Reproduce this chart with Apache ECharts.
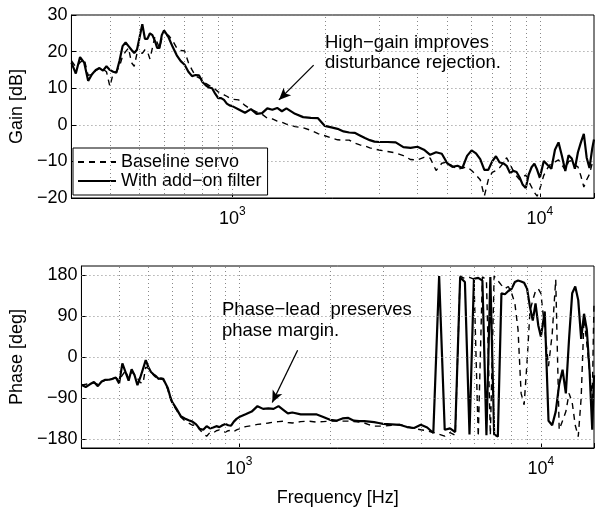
<!DOCTYPE html>
<html>
<head>
<meta charset="utf-8">
<script src="https://cdn.jsdelivr.net/npm/echarts@6/dist/echarts.min.js"></script>
<style>
    html, body { margin: 0; padding: 0; background: #fff; }
    #chart { width: 597px; height: 508px; }
</style>
</head>
<body>
<div id="chart"></div>
<script>
/* frequency points [Hz], shared by all curves */
var freq = [
    300, 310, 320, 330, 340, 350, 360, 370, 380, 390,
    400, 410, 420, 430, 440, 450, 460, 470, 480, 490,
    500, 510, 520, 530, 540, 550, 560, 570, 580, 590,
    600, 620, 640, 660, 680, 700, 720, 740, 760, 780,
    800, 820, 840, 860, 880, 900, 920, 940, 960, 980,
    1000, 1050, 1100, 1150, 1200, 1250, 1300, 1350, 1400, 1450,
    1500, 1600, 1700, 1800, 1900, 2000, 2100, 2200, 2300, 2400,
    2500, 2600, 2700, 2800, 2900, 3000, 3200, 3400, 3600, 3800,
    4000, 4200, 4400, 4600, 4800, 5000, 5200, 5400, 5600, 5800,
    6000, 6200, 6400, 6600, 6800, 7000, 7200, 7400, 7600, 7800,
    8000, 8200, 8400, 8600, 8800, 9000, 9200, 9400, 9600, 9800,
    10000, 10300, 10600, 10900, 11200, 11500, 11800, 12100, 12400, 12700,
    13000, 13300, 13600, 13900, 14200, 14500, 14800, 15000
];

/* gain [dB] */
var gainBase = [
    17.5, 15.8, 17, 18, 13.5, 13.8, 14.8, 15.5, 15.2, 14.5,
    10.5, 14, 14.6, 16, 18.8, 20, 21, 17, 16, 19.5,
    19.8, 19.5, 20.5, 20, 18, 21, 24, 22.5, 21, 23.5,
    24, 24.5, 23, 21, 20.3, 20.2, 17, 15, 13.3, 12.8,
    12.5, 11.3, 10.8, 10.3, 9.7, 9, 8.6, 8.2, 7.8, 7.3,
    7, 6.8, 5.3, 4.2, 3.5, 2.9, 1.8, 1.6, 1, 0.7,
    0.2, -0.5, -0.8, -1.5, -2.4, -3.0, -3.6, -4.1, -4.2, -4.2,
    -5.0, -5.5, -5.8, -6.3, -6.6, -6.9, -7.3, -7.7, -8.4, -9.5,
    -9.6, -8.9, -9.1, -12.5, -10.5, -10.2, -11.3, -12.2, -11.8, -11.5,
    -12.5, -13.7, -15, -19.5, -15, -13, -12.5, -11.7, -10.5, -9,
    -10.8, -12.6, -14, -15, -14.3, -13.7, -15.5, -17, -18.5, -19.5,
    -17.5, -13.8, -11.8, -10.5, -10.1, -9.6, -11, -12.3, -10, -9.8,
    -11, -11.5, -14, -17, -15, -13.5, -10.5, -9.6
];
var gainFilter = [
    17, 14, 18.5, 17, 12, 13.8, 15, 15.5, 14.8, 16,
    15, 14.5, 14.2, 17.5, 21.5, 22.5, 21.5, 20.5, 19.6, 20.5,
    24, 27.5, 23.5, 23.5, 25, 24.5, 23, 21, 21, 24.5,
    25.8, 24, 21.3, 19, 17.4, 16.4, 14.5, 13.3, 13.6, 13.5,
    11.7, 10.8, 10.2, 10, 8.5, 7.3, 7.3, 6.8, 5.8, 5.3,
    5.1, 4.2, 3.3, 4.3, 3, 3.2, 4.5, 4.1, 4.6, 3.7,
    4.5, 3.0, 2.1, 1.9, 1.8, -0.3, -0.7, -1.1, -1.8, -2.1,
    -2.2, -2.9, -3.6, -4.2, -4.6, -4.7, -4.7, -4.8, -6.1, -6.3,
    -6.0, -6.8, -8.2, -7.5, -7.9, -10.5, -11.5, -11.2, -11.8, -8.5,
    -7.0, -7.8, -9.4, -12.3, -12.3, -10.0, -8.6, -10.3, -10.5, -11.2,
    -13.2, -12.6, -12.9, -14.4, -16.4, -17.3, -13.6, -11.6, -10.6, -12.3,
    -14.5, -9.9, -11.0, -12.0, -6.8, -4.8, -8.5, -12.6, -8.3, -9.2,
    -12.0, -7.5, -4.8, -2.5, -9.0, -11.8, -6.5, -4
];

/* phase [deg] */
var phaseBase = [
    -62, -60, -58, -57, -60, -55, -51, -50, -48, -46,
    -51, -40, -30, -48, -33, -38, -47, -56, -58, -22,
    -25, -32, -40, -45, -50, -48, -50, -60, -72, -90,
    -102, -117, -132, -140, -145, -150, -149, -160, -168, -174,
    -166, -167, -162, -160, -163, -165, -162, -161, -164, -160,
    -158, -153, -151, -148, -147, -145, -143, -142, -141, -144,
    -145, -142, -141, -143, -142, -141, -141, -141, -141, -142,
    -143, -145, -149, -152, -152, -152, -150, -148, -153, -157,
    -160, -162, -166, -170, -174, -166, -172, 178, 172, 175,
    171, -175, 176, 170, -172, 178, 168, 158, 150, 155,
    140, 118, 60, -80, -105, -10, 100, 125, 145, 150,
    140, 60, -20, 50, 170, -160, -140, -120, -80, -100,
    -150, -175, -90, 85, 30, -30, -90, 120
];
var phaseFilter = [
    -61, -66, -60, -55, -64, -54, -50, -50, -48, -45,
    -58, -14, -33, -52, -27, -40, -62, -45, -26, -7,
    -22, -33, -38, -42, -48, -47, -48, -58, -68, -86,
    -99, -114, -130, -135, -139, -142, -148, -158, -160, -152,
    -157, -155, -152, -154, -150, -147, -150, -151, -142, -136,
    -132, -126, -120, -108, -114, -113, -114, -108, -116, -124,
    -122, -126, -126, -126, -132, -138, -140, -135, -134, -140,
    -141, -141, -142, -143, -145, -147, -148, -149, -154, -156,
    -149, -155, -167, 178, -160, -157, -165, 175, 165, -170,
    172, 174, 168, -172, 176, -170, -175, 140, 138, 145,
    150, 165, 168, 166, 163, 150, 110, 80, 118, 70,
    45, 100, -140, -150, -120, -60, -28, -80, 40, 140,
    155, 125, 40, 95, 60, -30, -160, -40
];

/* ticks and dotted grid positions */
var phaseTicks = [-180, -90, 0, 90, 180];
var gridFreq = [400, 500, 600, 700, 800, 900, 1000, 2000, 3000, 4000, 5000, 6000, 7000, 8000, 9000, 10000];

var FONT = '"Liberation Sans", Arial, Helvetica, sans-serif';

function pairs(ys) {
    return freq.map(function (f, i) { return [f, ys[i]]; });
}
function minus(v) {
    return String(v).replace('-', '\u2212');
}
function decadeLabel(v) {
    var e = Math.round(Math.log10(v));
    if (Math.abs(Math.log10(v) - e) > 1e-6) return '';
    return '{b|10}{sup|' + e + '}';
}

/* dotted grid lines drawn through markLine so they follow the axes */
function gridSeries(idx, yTicks) {
    var lines = gridFreq.map(function (f) { return { xAxis: f }; });
    if (yTicks) {
        yTicks.forEach(function (v) { lines.push({ yAxis: v }); });
    }
    return {
        type: 'line', name: 'grid' + idx, xAxisIndex: idx, yAxisIndex: idx,
        data: [], silent: true, z: 1,
        markLine: {
            silent: true, symbol: 'none', animation: false,
            label: { show: false },
            lineStyle: { color: '#888', type: [1, 3], width: 1 },
            data: lines
        }
    };
}

function arrow(from, to) {
    return {
        silent: true, symbol: ['none', 'arrow'], symbolSize: [8, 12], animation: false,
        label: { show: false },
        lineStyle: { color: '#000', width: 1.3, type: 'solid' },
        data: [[{ coord: from }, { coord: to }]]
    };
}

function xAxisCfg(idx, withName) {
    var ax = {
        type: 'log', logBase: 10, gridIndex: idx, min: 300, max: 15000,
        axisLine: { onZero: false, lineStyle: { color: '#000', width: 1 } },
        axisTick: { inside: true, length: 5, lineStyle: { color: '#000' } },
        splitLine: { show: false },
        axisLabel: {
            color: '#000', margin: 8, formatter: decadeLabel,
            rich: {
                b: { fontSize: 18, fontFamily: FONT, color: '#000', lineHeight: 26 },
                sup: { fontSize: 12, fontFamily: FONT, color: '#000', verticalAlign: 'top', lineHeight: 14 }
            }
        }
    };
    if (withName) {
        ax.name = 'Frequency [Hz]';
        ax.nameLocation = 'middle';
        ax.nameGap = 41;
        ax.nameTextStyle = { fontSize: 18, fontFamily: FONT, color: '#000' };
    }
    return ax;
}

var chart = echarts.init(document.getElementById('chart'));

var option = {
    animation: false,
    backgroundColor: '#fff',
    textStyle: { fontFamily: FONT },
    grid: [
        { left: 71, top: 15, width: 527, height: 183, show: true, borderColor: '#000', borderWidth: 1 },
        { left: 71, top: 266, width: 527, height: 183, show: true, borderColor: '#000', borderWidth: 1 }
    ],
    legend: {
        data: ['Baseline servo', 'With add\u2212on filter'],
        orient: 'vertical', left: 73, top: 148,
        itemWidth: 38, itemHeight: 14, itemGap: 1,
        padding: [5, 6, 5, 4],
        itemStyle: { opacity: 0 },
        backgroundColor: '#fff', borderColor: '#000', borderWidth: 1, borderRadius: 0,
        textStyle: { fontSize: 18, fontFamily: FONT, color: '#000', lineHeight: 18 }
    },
    xAxis: [xAxisCfg(0, false), xAxisCfg(1, true)],
    yAxis: [
        {
            type: 'value', gridIndex: 0, min: -20, max: 30, interval: 10,
            name: 'Gain [dB]', nameLocation: 'middle', nameGap: 40,
            nameTextStyle: { fontSize: 18, fontFamily: FONT, color: '#000' },
            axisLine: { show: true, onZero: false, lineStyle: { color: '#000' } },
            axisTick: { show: true, inside: true, length: 5, lineStyle: { color: '#000' } },
            axisLabel: { color: '#000', fontSize: 18, fontFamily: FONT, margin: 4, formatter: minus },
            splitLine: { show: true, lineStyle: { color: '#888', type: [1, 3], width: 1 } }
        },
        {
            type: 'value', gridIndex: 1, min: -200, max: 200,
            name: 'Phase [deg]', nameLocation: 'middle', nameGap: 46,
            nameTextStyle: { fontSize: 18, fontFamily: FONT, color: '#000' },
            axisLine: { show: true, onZero: false, lineStyle: { color: '#000' } },
            axisTick: { show: true, inside: true, length: 5, customValues: phaseTicks, lineStyle: { color: '#000' } },
            axisLabel: { color: '#000', fontSize: 18, fontFamily: FONT, margin: 4, customValues: phaseTicks, formatter: minus },
            splitLine: { show: false }
        }
    ],
    graphic: [
        {
            type: 'text', left: 325, top: 33, z: 10,
            style: { text: 'High\u2212gain improves\ndisturbance rejection.', font: '18.5px ' + FONT, fill: '#000', lineHeight: 20 }
        },
        {
            type: 'text', left: 222, top: 299, z: 10,
            style: { text: 'Phase\u2212lead  preserves\nphase margin.', font: '18.5px ' + FONT, fill: '#000', lineHeight: 21 }
        }
    ],
    series: [
        gridSeries(0, null),
        gridSeries(1, phaseTicks),
        {
            name: 'Baseline servo', type: 'line', xAxisIndex: 0, yAxisIndex: 0,
            data: pairs(gainBase), symbol: 'none', z: 3,
            lineStyle: { color: '#000', width: 1.4, type: [6, 5] }, itemStyle: { color: '#000' }
        },
        {
            name: 'With add\u2212on filter', type: 'line', xAxisIndex: 0, yAxisIndex: 0,
            data: pairs(gainFilter), symbol: 'none', z: 4,
            lineStyle: { color: '#000', width: 2.2 }, itemStyle: { color: '#000' },
            markLine: arrow([1839, 16.3], [1418, 6.8])
        },
        {
            name: 'Baseline servo', type: 'line', xAxisIndex: 1, yAxisIndex: 1,
            data: pairs(phaseBase), symbol: 'none', z: 3,
            lineStyle: { color: '#000', width: 1.4, type: [6, 5] }, itemStyle: { color: '#000' }
        },
        {
            name: 'With add\u2212on filter', type: 'line', xAxisIndex: 1, yAxisIndex: 1,
            data: pairs(phaseFilter), symbol: 'none', z: 4,
            lineStyle: { color: '#000', width: 2.2 }, itemStyle: { color: '#000' },
            markLine: arrow([1562, 15], [1287, -100])
        }
    ]
};

chart.setOption(option);
</script>
</body>
</html>
